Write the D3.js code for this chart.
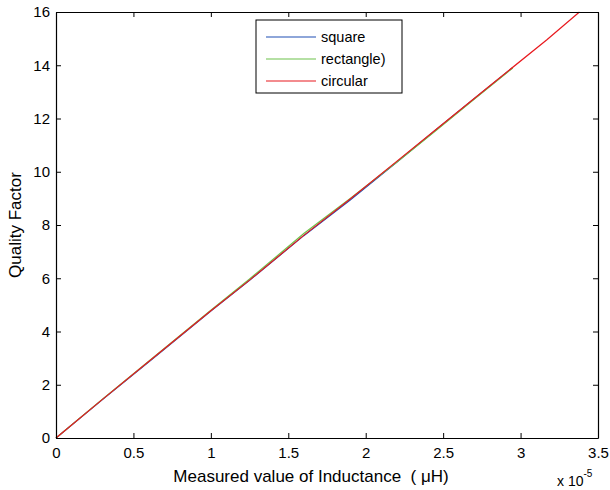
<!DOCTYPE html>
<html>
<head>
<meta charset="utf-8">
<script src="https://cdn.jsdelivr.net/npm/d3@7"></script>
<style>
  body { margin: 0; background: #fff; }
  text { font-family: "Liberation Sans", Arial, sans-serif; fill: #000; }
</style>
</head>
<body>
<svg id="chart" width="610" height="490"></svg>
<script>
// x values in units of 1e-5 H
const squareX = [0, 0.3, 0.65, 1.0, 1.25, 1.6, 1.9, 2.2, 2.45, 2.7, 2.95];
const squareY = [0, 1.44, 3.1, 4.77, 5.92, 7.6, 8.94, 10.36, 11.56, 12.74, 13.92];
const rectX = [0, 0.3, 0.65, 1.0, 1.25, 1.6, 1.9, 2.2, 2.45, 2.7, 2.95];
const rectY = [0, 1.46, 3.13, 4.8, 5.97, 7.68, 9.0, 10.36, 11.53, 12.72, 13.9];
const circX = [0, 0.3, 0.65, 1.0, 1.25, 1.6, 1.9, 2.2, 2.45, 2.8, 3.17, 3.38];
const circY = [0, 1.45, 3.12, 4.78, 5.93, 7.61, 8.98, 10.39, 11.57, 13.22, 14.96, 16];

const seriesNames = ["square", "rectangle)", "circular"];
const seriesColors = ["#1f4fb4", "#6cc24a", "#e8191e"];
const xTicks = [0, 0.5, 1, 1.5, 2, 2.5, 3, 3.5];
const yTicks = [0, 2, 4, 6, 8, 10, 12, 14, 16];

const svg = d3.select("#chart");
const plotLeft = 56, plotRight = 598, plotTop = 12, plotBottom = 438;

const x = d3.scaleLinear().domain([0, 3.5]).range([plotLeft, plotRight]);
const y = d3.scaleLinear().domain([0, 16]).range([plotBottom, plotTop]);

const series = [
    d3.zip(squareX, squareY),
    d3.zip(rectX, rectY),
    d3.zip(circX, circY)
];

const line = d3.line().x(d => x(d[0])).y(d => y(d[1]));

series.forEach((s, i) => {
    svg.append("path")
        .datum(s)
        .attr("fill", "none")
        .attr("stroke", seriesColors[i])
        .attr("stroke-width", 1.2)
        .attr("d", line);
});

// axes, MATLAB box style with inward ticks
const fmt = d => String(d);
svg.append("g")
    .attr("transform", `translate(0,${plotBottom})`)
    .call(d3.axisBottom(x).tickValues(xTicks).tickFormat(fmt).tickSizeInner(-5).tickSizeOuter(0).tickPadding(9));
svg.append("g")
    .attr("transform", `translate(0,${plotTop})`)
    .call(d3.axisTop(x).tickValues(xTicks).tickFormat("").tickSizeInner(-5).tickSizeOuter(0));
svg.append("g")
    .attr("transform", `translate(${plotLeft},0)`)
    .call(d3.axisLeft(y).tickValues(yTicks).tickFormat(fmt).tickSizeInner(-5).tickSizeOuter(0).tickPadding(6));
svg.append("g")
    .attr("transform", `translate(${plotRight},0)`)
    .call(d3.axisRight(y).tickValues(yTicks).tickFormat("").tickSizeInner(-5).tickSizeOuter(0));

svg.selectAll(".domain").attr("stroke", "#000").attr("stroke-width", 1.2);
svg.selectAll(".tick line").attr("stroke", "#000");
svg.selectAll(".tick text").style("font-size", "15px").style("font-family", "Liberation Sans, Arial, sans-serif");

// labels
svg.append("text")
    .attr("x", 311)
    .attr("y", 482)
    .attr("text-anchor", "middle")
    .style("font-size", "17px")
    .style("white-space", "pre")
    .text("Measured value of Inductance  ( \u03BCH)");

svg.append("text")
    .attr("transform", `translate(21,${(plotTop + plotBottom) / 2}) rotate(-90)`)
    .attr("text-anchor", "middle")
    .style("font-size", "17px")
    .text("Quality Factor");

const exp = svg.append("text")
    .attr("x", 557)
    .attr("y", 486)
    .style("font-size", "14px");
exp.append("tspan").text("x 10");
exp.append("tspan").attr("dy", -9).style("font-size", "10px").text("-5");

// legend
const legend = svg.append("g");
legend.append("rect")
    .attr("x", 256).attr("y", 20)
    .attr("width", 146).attr("height", 73)
    .attr("fill", "#fff").attr("stroke", "#000").attr("stroke-width", 1);
seriesNames.forEach((name, i) => {
    const ly = 37 + i * 22;
    legend.append("line")
        .attr("x1", 266).attr("x2", 316)
        .attr("y1", ly).attr("y2", ly)
        .attr("stroke", seriesColors[i]).attr("stroke-width", 1.2);
    legend.append("text")
        .attr("x", 321).attr("y", ly + 5)
        .style("font-size", "14.5px")
        .text(name);
});
</script>
</body>
</html>
